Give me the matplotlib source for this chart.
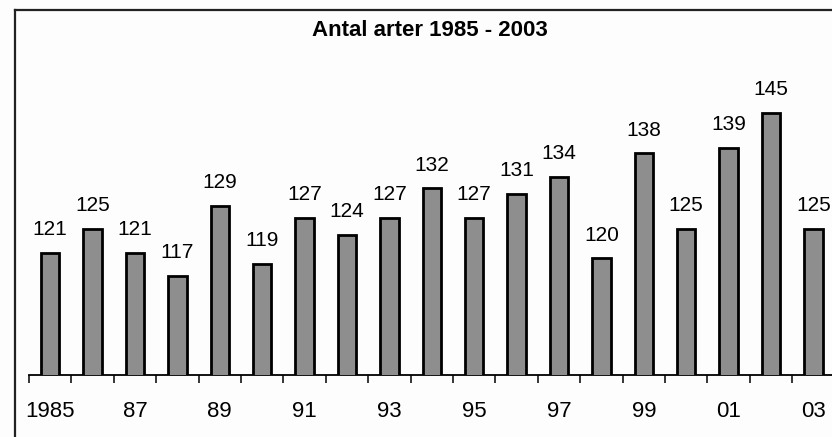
import matplotlib
matplotlib.use("Agg")
import matplotlib.pyplot as plt
from matplotlib.lines import Line2D
from matplotlib.ticker import FixedLocator

years = list(range(1985, 2004))
counts = [121, 125, 121, 117, 129, 119, 127, 124, 127, 132,
          127, 131, 134, 120, 138, 125, 139, 145, 125]
tick_years = [1985, 1987, 1989, 1991, 1993, 1995, 1997, 1999, 2001, 2003]
tick_labels = ["1985", "87", "89", "91", "93", "95", "97", "99", "01", "03"]
title = "Antal arter 1985 - 2003"

plt.rcParams['font.family'] = ['Liberation Sans', 'DejaVu Sans']

W, H = 832, 437
fig = plt.figure(figsize=(W / 100, H / 100), dpi=100)
fig.patch.set_facecolor('#fdfdfd')

# axes geometry in pixels
left_px, right_px = 29, 832
base_px, top_px = 375, 10
ax = fig.add_axes([left_px / W, (H - base_px) / H,
                   (right_px - left_px) / W, (base_px - top_px) / H])
ax.set_facecolor('none')

px_per_year = 42.4
px_per_unit = 5.83
ax.set_xlim(1984.5, 1984.5 + (right_px - left_px) / px_per_year)
ax.set_ylim(100, 100 + (base_px - top_px) / px_per_unit)

bars = ax.bar(years, counts, width=0.43, color='#8e8e8e',
              edgecolor='black', linewidth=2.0, zorder=3)

for x, v in zip(years, counts):
    ax.annotate(str(v), (x, v), xytext=(0, 10), textcoords='offset points',
                ha='center', va='bottom', fontsize=15, color='black')

for s in ['top', 'right', 'left']:
    ax.spines[s].set_visible(False)
ax.spines['bottom'].set_linewidth(1.3)
ax.set_yticks([])

ax.set_xticks(tick_years)
ax.set_xticklabels(tick_labels, fontsize=16)
ax.xaxis.set_minor_locator(FixedLocator([y - 0.5 for y in years] + [2003.5]))
ax.tick_params(axis='x', which='major', length=0, pad=19)
ax.tick_params(axis='x', which='minor', length=5.5, width=1.1, direction='out')

fig.text(430 / W, 1 - 31 / H, title, ha='center', va='center',
         fontsize=16, fontweight='bold')

# outer frame (left and top edges)
fig.add_artist(Line2D([15 / W, 15 / W], [0, 1 - 10 / H], transform=fig.transFigure,
                      color='#222222', linewidth=1.6))
fig.add_artist(Line2D([15 / W, 1], [1 - 10 / H, 1 - 10 / H], transform=fig.transFigure,
                      color='#222222', linewidth=1.6))

fig.savefig('out.png', dpi=100, facecolor=fig.get_facecolor())
